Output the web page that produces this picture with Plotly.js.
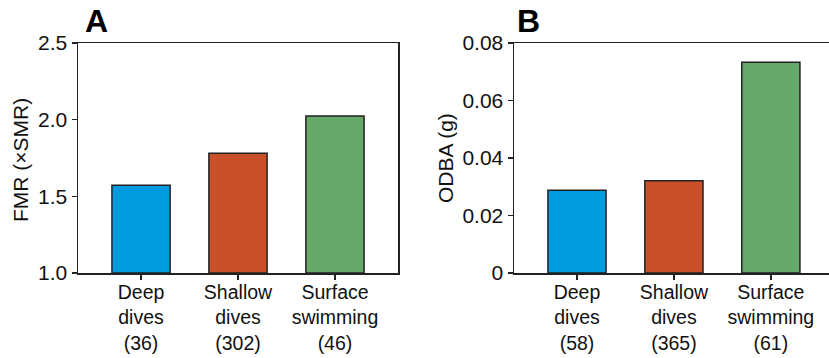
<!DOCTYPE html>
<html>
<head>
<meta charset="utf-8">
<script src="https://cdn.plot.ly/plotly-3.0.1.min.js"></script>
<style>html,body{margin:0;padding:0;background:#fff;}#chart{width:829px;height:358px;}</style>
</head>
<body>
<div id="chart"></div>
<script>
const categories = ["Deep dives", "Shallow dives", "Surface swimming"];
const tickLabelsA = ["Deep<br>dives<br>(36)", "Shallow<br>dives<br>(302)", "Surface<br>swimming<br>(46)"];
const tickLabelsB = ["Deep<br>dives<br>(58)", "Shallow<br>dives<br>(365)", "Surface<br>swimming<br>(61)"];
const fmrValues = [1.572, 1.781, 2.024];
const odbaValues = [0.0288, 0.0321, 0.0733];
const barColors = ["#009ADF", "#C9502A", "#67A96A"];

const FONT = "Liberation Sans, Arial, Helvetica, sans-serif";
const INK = "#222222";
const FS = 21;
const FSX = 19.5;

const xIdx = categories.map((c, i) => i);

const traceA = {
  type: "bar", x: xIdx, y: fmrValues.map(v => v - 1.0), base: 1.0,
  xaxis: "x", yaxis: "y", width: 0.6,
  marker: {color: barColors, line: {color: INK, width: 1.5}},
  hoverinfo: "skip", showlegend: false
};

const traceB = {
  type: "bar", x: xIdx, y: odbaValues,
  xaxis: "x2", yaxis: "y2", width: 0.6,
  marker: {color: barColors, line: {color: INK, width: 1.5}},
  hoverinfo: "skip", showlegend: false
};

const yBottom = (358 - 273) / 358, yTop = (358 - 43) / 358;

const commonX = {
  showgrid: false, zeroline: false, showline: true, linecolor: INK, linewidth: 1.5,
  ticks: "outside", ticklen: 5, tickwidth: 1.5, tickcolor: INK, ticklabelstandoff: -4,
  tickfont: {family: FONT, size: FSX, color: "#111"}, tickmode: "array", tickvals: xIdx,
  fixedrange: true
};
const commonY = {
  showgrid: false, zeroline: false, showline: true, linecolor: INK, linewidth: 1.5,
  ticks: "outside", ticklen: 5, tickwidth: 1.5, tickcolor: INK,
  tickfont: {family: FONT, size: FS, color: "#111"}, fixedrange: true
};

const layout = {
  width: 829, height: 358,
  margin: {l: 0, r: 0, t: 0, b: 0},
  paper_bgcolor: "#fff", plot_bgcolor: "#fff",
  xaxis: Object.assign({}, commonX, {
    domain: [78 / 829, 398 / 829], range: [-0.65, 2.65], ticktext: tickLabelsA,
    mirror: true, anchor: "y"
  }),
  yaxis: Object.assign({}, commonY, {
    domain: [yBottom, yTop], range: [1.0, 2.5], tickvals: [1.0, 1.5, 2.0, 2.5],
    ticktext: ["1.0", "1.5", "2.0", "2.5"], tickmode: "array", mirror: true, anchor: "x"
  }),
  xaxis2: Object.assign({}, commonX, {
    domain: [514 / 829, 1.0], range: [-0.65, 2.6], ticktext: tickLabelsB,
    mirror: true, anchor: "y2"
  }),
  yaxis2: Object.assign({}, commonY, {
    domain: [yBottom, yTop], range: [0, 0.08], tickvals: [0, 0.02, 0.04, 0.06, 0.08],
    ticktext: ["0", "0.02", "0.04", "0.06", "0.08"], tickmode: "array", mirror: false, anchor: "x2"
  }),
  annotations: [
    {text: "<b>A</b>", xref: "paper", yref: "paper", x: 83 / 829, y: 1 - 21 / 358,
     xanchor: "left", yanchor: "middle", showarrow: false, font: {family: FONT, size: 32, color: "#000"}},
    {text: "<b>B</b>", xref: "paper", yref: "paper", x: 515 / 829, y: 1 - 21 / 358,
     xanchor: "left", yanchor: "middle", showarrow: false, font: {family: FONT, size: 32, color: "#000"}},
    {text: "FMR (\u00D7SMR)", xref: "paper", yref: "paper", x: 20 / 829, y: (358 - 160) / 358,
     xanchor: "center", yanchor: "middle", textangle: -90, showarrow: false,
     font: {family: FONT, size: FS, color: "#111"}},
    {text: "ODBA (g)", xref: "paper", yref: "paper", x: 445 / 829, y: (358 - 158) / 358,
     xanchor: "center", yanchor: "middle", textangle: -90, showarrow: false,
     font: {family: FONT, size: FS, color: "#111"}}
  ]
};

Plotly.newPlot("chart", [traceA, traceB], layout, {staticPlot: true, displayModeBar: false});
</script>
</body>
</html>
